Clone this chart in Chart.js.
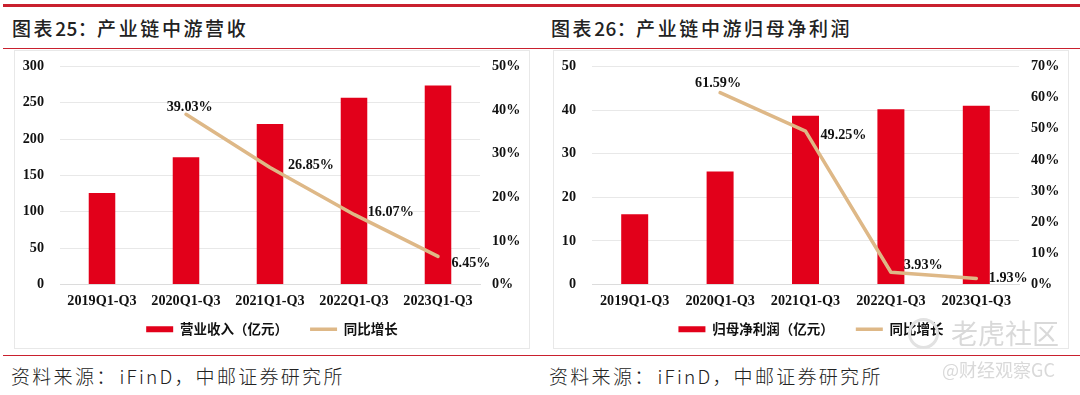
<!DOCTYPE html>
<html lang="zh">
<head>
<meta charset="utf-8">
<script src="https://cdn.jsdelivr.net/npm/chart.js@4"></script>
<style>
    body { margin: 0; background: #fff; width: 1080px; height: 395px; overflow: hidden; position: relative; font-family: "Noto Sans CJK SC", sans-serif; }
    .rule { position: absolute; left: 3px; right: 0; background: #c9202e; }
    .title { position: absolute; top: 14px; font-size: 19px; line-height: 28px; letter-spacing: 2.6px; font-weight: 500; color: #222; white-space: nowrap; }
    .title span { letter-spacing: 0.4px; }
    .source { position: absolute; top: 362px; font-size: 19px; line-height: 28px; letter-spacing: 2.3px; font-weight: 300; color: #222; white-space: nowrap; }
    .source span { letter-spacing: 2.2px; margin-left: 2px; }
    .panel { position: absolute; top: 50px; width: 514px; height: 297px; border: 1px solid #e8e8e8; }
    canvas { position: absolute; left: 0; top: 0; }
    .mark { position: absolute; color: #d9d9d9; white-space: nowrap; }
    .logo { position: absolute; left: 908px; top: 318px; width: 25px; height: 25px; border: 3px solid #e2e2e2; border-radius: 50%; }
</style>
</head>
<body>
<div class="rule" style="top:4px;height:3px"></div>
<div class="rule" style="top:48px;height:1px"></div>
<div class="rule" style="top:355px;height:1px"></div>

<div class="title" style="left:12px">图表<span>25：</span>产业链中游营收</div>
<div class="title" style="left:551px">图表<span>26：</span>产业链中游归母净利润</div>

<div class="panel" style="left:14px"><canvas id="revenueChart"></canvas></div>
<div class="panel" style="left:553px"><canvas id="profitChart"></canvas></div>

<div class="source" style="left:11px">资料来源：<span>iFinD，</span>中邮证券研究所</div>
<div class="source" style="left:549px">资料来源：<span>iFinD，</span>中邮证券研究所</div>

<div class="logo"></div>
<div class="mark" style="left:951px;top:316px;font-size:27px;line-height:34px">老虎社区</div>
<div class="mark" style="left:942px;top:357px;font-size:18px;line-height:24px">@财经观察GC</div>

<script>
const categories = ['2019Q1-Q3', '2020Q1-Q3', '2021Q1-Q3', '2022Q1-Q3', '2023Q1-Q3'];

const revenue = [126, 175, 221, 257, 274];
const revenueGrowth = [null, 39.03, 26.85, 16.07, 6.45];
const revenueTicks = [0, 50, 100, 150, 200, 250, 300];
const revenueGrowthTicks = [0, 10, 20, 30, 40, 50];

const profit = [16.1, 25.9, 38.7, 40.2, 41.0];
const profitGrowth = [null, 61.59, 49.25, 3.93, 1.93];
const profitTicks = [0, 10, 20, 30, 40, 50];
const profitGrowthTicks = [0, 10, 20, 30, 40, 50, 60, 70];

const BAR_RED = '#e2001a';
const LINE_TAN = '#deb887';
const LATIN_FONT = '"Liberation Serif", serif';

// etiquetas del porcentaje, dibujadas al lado de cada punto de la línea
const growthLabels = {
    id: 'growthLabels',
    afterDatasetsDraw(chart, args, opts) {
        const ctx = chart.ctx;
        const points = chart.getDatasetMeta(1).data;
        const values = chart.data.datasets[1].data;
        ctx.save();
        ctx.font = 'bold 14.2px ' + LATIN_FONT;
        ctx.fillStyle = '#111';
        ctx.textAlign = 'center';
        ctx.textBaseline = 'middle';
        values.forEach((value, i) => {
            if (value === null) return;
            const offset = opts.offsets[i];
            ctx.fillText(value.toFixed(2) + '%', points[i].x + offset[0], points[i].y + offset[1]);
        });
        ctx.restore();
    }
};

// ancho fijo del eje y sin el margen extra de las etiquetas
function fitVerticalAxis(scale, width) {
    scale.width = width;
    scale.paddingTop = 0;
    scale.paddingBottom = 0;
}

function createComboChart(canvasId, barLabel, barData, lineData, barTicks, lineTicks, labelOffsets, leftWidth, rightWidth) {
    const canvas = document.getElementById(canvasId);
    canvas.width = 514;
    canvas.height = 297;
    canvas.style.width = '514px';
    canvas.style.height = '297px';

    return new Chart(canvas.getContext('2d'), {
        type: 'bar',
        plugins: [growthLabels],
        data: {
            labels: categories,
            datasets: [
                {
                    label: barLabel,
                    data: barData,
                    backgroundColor: BAR_RED,
                    categoryPercentage: 1,
                    barPercentage: 0.316,
                    yAxisID: 'y',
                    order: 2
                },
                {
                    type: 'line',
                    label: '同比增长',
                    data: lineData,
                    borderColor: LINE_TAN,
                    borderWidth: 3.5,
                    pointRadius: 0,
                    tension: 0,
                    borderCapStyle: 'round',
                    borderJoinStyle: 'round',
                    spanGaps: false,
                    yAxisID: 'y1',
                    order: 1
                }
            ]
        },
        options: {
            responsive: false,
            animation: false,
            layout: { padding: { top: 15.5, left: 0, right: 0, bottom: 2 } },
            plugins: {
                tooltip: { enabled: false },
                growthLabels: { offsets: labelOffsets },
                legend: {
                    position: 'bottom',
                    labels: {
                        usePointStyle: true,
                        pointStyleWidth: 27,
                        boxHeight: 10,
                        padding: 16,
                        color: '#111',
                        font: { family: '"Noto Sans CJK SC"', size: 13.5, weight: 'bold' },
                        generateLabels(chart) {
                            return chart.data.datasets.map((ds, i) => ({
                                // los espacios separan un poco más las dos entradas
                                text: i === 0 ? ds.label + '  ' : ds.label,
                                datasetIndex: i,
                                pointStyle: 'line',
                                strokeStyle: i === 0 ? BAR_RED : LINE_TAN,
                                fillStyle: i === 0 ? BAR_RED : LINE_TAN,
                                lineWidth: i === 0 ? 6 : 3.5,
                                fontColor: '#111'
                            }));
                        }
                    }
                }
            },
            scales: {
                x: {
                    grid: { display: false },
                    border: { display: true, color: '#dcdcdc' },
                    ticks: { color: '#111', padding: 0.5, maxRotation: 0, autoSkip: false, font: { family: LATIN_FONT, size: 14.2, weight: 'bold' } },
                    afterFit(scale) { scale.height = 22; }
                },
                y: {
                    position: 'left',
                    min: barTicks[0],
                    max: barTicks[barTicks.length - 1],
                    afterBuildTicks(scale) { scale.ticks = barTicks.map(value => ({ value })); },
                    grid: { color: '#e8e8e8', lineWidth: 1, drawTicks: false },
                    border: { display: false },
                    ticks: { color: '#111', padding: 16, font: { family: LATIN_FONT, size: 14.2, weight: 'bold' } },
                    afterFit(scale) { fitVerticalAxis(scale, leftWidth); }
                },
                y1: {
                    position: 'right',
                    min: lineTicks[0],
                    max: lineTicks[lineTicks.length - 1],
                    afterBuildTicks(scale) { scale.ticks = lineTicks.map(value => ({ value })); },
                    grid: { display: false, drawTicks: false },
                    border: { display: false },
                    ticks: {
                        color: '#111',
                        padding: 12,
                        font: { family: LATIN_FONT, size: 14.2, weight: 'bold' },
                        callback: value => value + '%'
                    },
                    afterFit(scale) { fitVerticalAxis(scale, rightWidth); }
                }
            }
        }
    });
}

document.addEventListener('DOMContentLoaded', () => {
    createComboChart('revenueChart', '营业收入（亿元）', revenue, revenueGrowth, revenueTicks, revenueGrowthTicks,
        [null, [3.7, -7], [41, -2.5], [36.8, -2], [33, 7]], 45, 49);
    createComboChart('profitChart', '归母净利润（亿元）', profit, profitGrowth, profitTicks, profitGrowthTicks,
        [null, [-2, -9], [38, 4.5], [32.3, -7], [32, 0]], 38, 49);
});
</script>
</body>
</html>
